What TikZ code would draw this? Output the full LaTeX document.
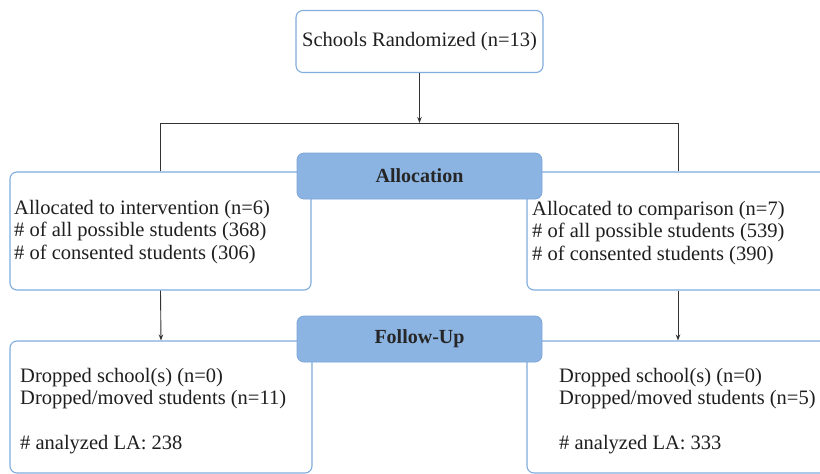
\documentclass[tikz,border=0pt]{standalone}
\usepackage{fontspec}
\setmainfont{Liberation Serif}
\usetikzlibrary{arrows.meta}
\definecolor{boxline}{RGB}{128,172,222}
\definecolor{bannerfill}{RGB}{139,180,227}
\definecolor{bannerline}{RGB}{125,165,215}
\tikzset{
  box/.style={draw=boxline, line width=1.1pt, rounded corners=7pt, fill=white},
  banner/.style={draw=bannerline, line width=0.8pt, fill=bannerfill, rounded corners=7pt,
    font=\fontsize{20}{22}\selectfont\bfseries, text=black!85},
  txt/.style={font=\fontsize{20.5}{22.5}\selectfont, align=left, anchor=west, inner sep=0pt, text=black!88},
  conn/.style={line width=0.9pt, black!80},
  arr/.style={conn, -{Stealth[length=6pt, width=4.5pt]}}
}
\begin{document}
\begin{tikzpicture}[x=1pt, y=-1pt]
\useasboundingbox (0,0) rectangle (820,474);
\clip (0,0) rectangle (820,474);
% top box
\node[box, minimum width=247pt, minimum height=62pt] (top) at (419.5,41.5) {};
\node[txt, anchor=center] (toptxt) at (top.center) {Schools Randomized (n=13)};
% allocation boxes
\node[box, minimum width=301pt, minimum height=118pt] (L1) at (160.5,231) {};
\node[box, minimum width=302pt, minimum height=118pt] (R1) at (678,231) {};
\node[txt] (L1txt) at (14,232) {Allocated to intervention (n=6)\\\# of all possible students (368)\\\# of consented students (306)};
\node[txt] (R1txt) at (532,233) {Allocated to comparison (n=7)\\\# of all possible students (539)\\\# of consented students (390)};
% follow-up boxes
\node[box, minimum width=302pt, minimum height=132pt] (L2) at (161,407) {};
\node[box, minimum width=302pt, minimum height=132pt] (R2) at (678,407) {};
\node[txt] (L2txt) at (20,411) {Dropped school(s) (n=0)\\Dropped/moved students (n=11)\\[22.5pt]\# analyzed LA: 238};
\node[txt] (R2txt) at (559,411) {Dropped school(s) (n=0)\\Dropped/moved students (n=5)\\[22.5pt]\# analyzed LA: 333};
% banners
\node[banner, minimum width=245pt, minimum height=46pt] (alloc) at (419.5,176) {Allocation};
\node[banner, minimum width=245pt, minimum height=46pt] (follow) at (419.5,339) {Follow-Up};
% connectors
\coordinate (split) at (top.south |- 0,123);
\draw[arr] (top.south) -- (split);
\draw[conn] (L1.north) -- (L1.north |- split) -- (R1.north |- split) -- (R1.north);
\draw[arr] (L1.south) -- (L2.north);
\draw[arr] (R1.south) -- (R2.north);
\end{tikzpicture}
\end{document}
